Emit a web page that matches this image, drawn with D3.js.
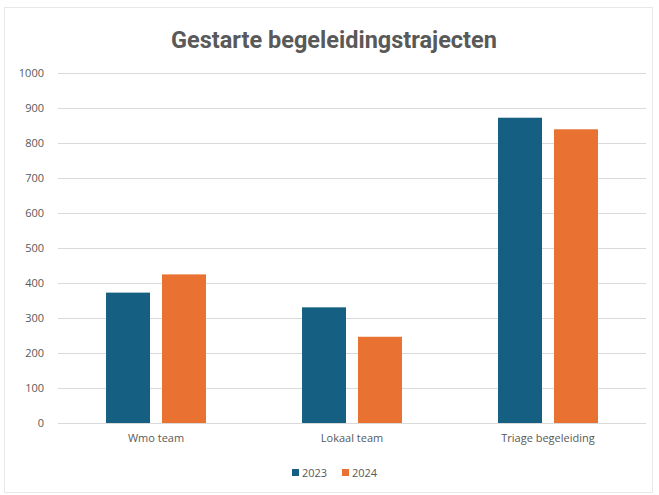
<!DOCTYPE html>
<html>
<head>
<meta charset="utf-8">
<script src="https://cdn.jsdelivr.net/npm/d3@7"></script>
<style>
  body { margin: 0; background: #fff; }
  svg { display: block; }
</style>
</head>
<body>
<svg id="chart" width="659" height="495"></svg>
<script>
const title = "Gestarte begeleidingstrajecten";
const categories = ["Wmo team", "Lokaal team", "Triage begeleiding"];
const seriesNames = ["2023", "2024"];
const values2023 = [372, 330, 871];
const values2024 = [424, 246, 838];
const yTicks = [0, 100, 200, 300, 400, 500, 600, 700, 800, 900, 1000];
const colors = ["#156082", "#E97132"];

(function () {
const series = [values2023, values2024];
const svg = d3.select("#chart");
const font = "'Open Sans', 'Noto Sans', sans-serif";

// faint frame
svg.append("rect").attr("x", 4.5).attr("y", 7.5).attr("width", 648).attr("height", 485)
  .attr("fill", "#fff").attr("stroke", "#e8e8e8").attr("stroke-width", 1);

const mLeft = 58, mRight = 646, mTop = 72.5, mBottom = 423;

const x = d3.scaleBand().domain(categories).range([mLeft, mRight]).paddingInner(0.49).paddingOuter(0.245);
const xs = d3.scaleBand().domain(seriesNames).range([0, x.bandwidth()]).paddingInner(0.214).paddingOuter(0);
const y = d3.scaleLinear().domain([0, 1000]).range([mBottom, mTop]);

// gridlines
svg.append("g").selectAll("line").data(yTicks).join("line")
  .attr("x1", mLeft).attr("x2", mRight)
  .attr("y1", d => Math.round(y(d)) + 0.5).attr("y2", d => Math.round(y(d)) + 0.5)
  .attr("stroke", "#d9d9d9").attr("stroke-width", 1);

// y axis labels
const yAxis = d3.axisLeft(y).tickValues(yTicks).tickFormat(d3.format("d")).tickSize(0).tickPadding(0);
const yg = svg.append("g").attr("transform", `translate(${44},0)`).call(yAxis);
yg.select(".domain").remove();
yg.selectAll("text").attr("fill", "#595959").style("font-family", font).style("font-size", "11px");

// bars
const groups = svg.append("g").selectAll("g").data(categories).join("g")
  .attr("transform", d => `translate(${x(d)},0)`);
groups.selectAll("rect").data((c, i) => seriesNames.map((s, j) => ({ s, v: series[j][i], j })))
  .join("rect")
  .attr("x", d => xs(d.s)).attr("width", xs.bandwidth())
  .attr("y", d => y(d.v)).attr("height", d => y(0) - y(d.v))
  .attr("fill", d => colors[d.j]);

// x axis labels
const xAxis = d3.axisBottom(x).tickSize(0).tickPadding(0);
const xg = svg.append("g").attr("transform", `translate(0,${434})`).call(xAxis);
xg.select(".domain").remove();
xg.selectAll("text").attr("fill", "#595959").style("font-family", font).style("font-size", "11px");

// title
svg.append("text").attr("x", 334).attr("y", 48).attr("text-anchor", "middle")
  .attr("fill", "#595959").style("font-family", "Roboto, 'Open Sans', sans-serif")
  .style("font-weight", "bold").style("font-size", "23.5px").text(title);

// legend
const legend = svg.append("g").attr("transform", "translate(292,473)");
const lg = legend.selectAll("g").data(seriesNames).join("g")
  .attr("transform", (d, i) => `translate(${i * 50},0)`);
lg.append("rect").attr("x", 0).attr("y", -4).attr("width", 7).attr("height", 7).attr("fill", (d, i) => colors[i]);
lg.append("text").attr("x", 10).attr("y", 0).attr("dy", "0.35em").attr("fill", "#595959")
  .style("font-family", font).style("font-size", "11px").text(d => d);
})();
</script>
</body>
</html>
